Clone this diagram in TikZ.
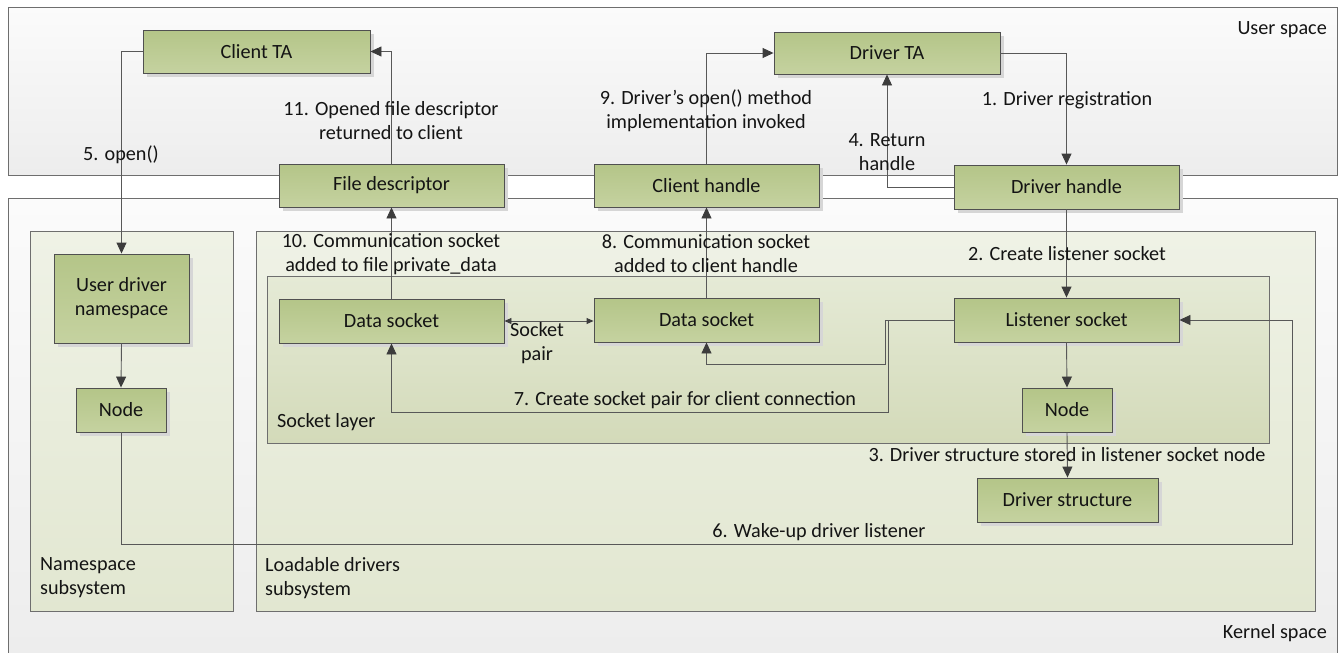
\documentclass[tikz,border=0pt]{standalone}
\usepackage{fontspec}
\setmainfont{Carlito}
\usetikzlibrary{arrows.meta}
\definecolor{gtop}{HTML}{B4C588}
\definecolor{gbot}{HTML}{C5D2A0}
\definecolor{gborder}{HTML}{505050}
\definecolor{cborder}{HTML}{6E6E6E}
\definecolor{linec}{HTML}{585858}
\definecolor{tipc}{HTML}{3C3C3C}
\definecolor{shadowc}{HTML}{D6D6D6}
\definecolor{txt}{HTML}{141414}
\definecolor{ctop}{HTML}{FBFBFB}
\definecolor{cbot}{HTML}{EDEDED}
\definecolor{ntop}{HTML}{EFF2E6}
\definecolor{nbot}{HTML}{E2E7D1}
\definecolor{stop}{HTML}{E5EAD6}
\definecolor{sbot}{HTML}{D3DAB9}
\tikzset{
  gbox/.style={draw=gborder, line width=0.9pt, top color=gtop, bottom color=gbot,
    inner sep=0pt, align=center, text=txt},
  lbl/.style={inner sep=0pt, align=center, text=txt},
  arr/.style={draw=linec, line width=0.9pt, -{Triangle[length=11pt,width=10pt,fill=tipc,color=tipc]}},
  arrs/.style={draw=linec, line width=0.9pt, {Triangle[length=7pt,width=6pt,fill=tipc,color=tipc]}-{Triangle[length=7pt,width=6pt,fill=tipc,color=tipc]}},
  plain/.style={draw=linec, line width=0.9pt},
  cont/.style={draw=cborder, line width=0.9pt},
}
\newcommand\greenbox[6]{%
  \fill[shadowc] ({#2-#4/2+4},{#3-#5/2+4}) rectangle ({#2+#4/2+4},{#3+#5/2+4});
  \node[gbox, minimum width=#4pt, minimum height=#5pt] (#1) at (#2,#3) {#6};}
\begin{document}
\begin{tikzpicture}[x=1pt,y=-1pt,font=\fontsize{20.2}{24}\selectfont]
\useasboundingbox (0,0) rectangle (1344,653);
\fill[white] (0,0) rectangle (1344,653);
% containers
\path[cont, top color=ctop, bottom color=cbot] (8,7) rectangle (1337,175);
\path[top color=ctop, bottom color=cbot] (8,198) rectangle (1337,653);
\draw[cont] (8,653) -- (8,198) -- (1337,198) -- (1337,653);
\path[cont, top color=ntop, bottom color=nbot] (30,231) rectangle (233,611);
\path[cont, top color=ntop, bottom color=nbot] (256,231) rectangle (1315,611);
\path[cont, top color=stop, bottom color=sbot] (267,276) rectangle (1269,443);
\node[lbl, anchor=east] (us) at (1327,30) {User space};
\node[lbl, anchor=east] (ks) at (1327,633) {Kernel space};
\node[lbl, anchor=west] (sl) at (277,422) {Socket layer};
\node[lbl, anchor=west, align=left] (nsl) at (40,578) {Namespace\\subsystem};
\node[lbl, anchor=west, align=left] (ldl) at (265,578) {Loadable drivers\\subsystem};
% boxes
\greenbox{cta}{256.5}{51.5}{227}{43}{Client TA}
\greenbox{dta}{887}{53}{226}{42}{Driver TA}
\greenbox{fd}{391.5}{185.5}{225}{43}{File descriptor}
\greenbox{ch}{706.5}{185.5}{225}{43}{Client handle}
\greenbox{dh}{1066.5}{187}{225}{44}{Driver handle}
\greenbox{uns}{121.5}{298.5}{135}{89}{User driver\\namespace}
\greenbox{nns}{121}{410}{90}{44}{Node}
\greenbox{dl}{391.5}{321}{225}{44}{Data socket}
\greenbox{dm}{706.5}{320}{225}{44}{Data socket}
\greenbox{ls}{1066.5}{320}{225}{44}{Listener socket}
\greenbox{nl}{1067}{410}{90}{44}{Node}
\greenbox{dst}{1067.5}{500}{181}{44}{Driver structure}
% connectors
\draw[arr] (dta.east) -| (dh.north);
\draw[arr] (dh.south) -- (ls.north);
\draw[arr] (ls.south) -- (nl.north);
\draw[arr] (nl.south) -- (dst.north);
\draw[arr] (dh.west) -| (dta.south);
\draw[arr] (cta.west) -| (uns.north);
\draw[arr] (uns.south) -- (nns.north);
\coordinate (w6) at (1292,544);
\draw[arr] (nns.south) |- (w6) |- (ls.east);
\coordinate (c7a) at (888,412);
\coordinate (c7b) at (885,364);
\draw[arr] (ls.west) -| (c7a) -| (dl.south);
\draw[arr] (ls.west) -| (c7b) -| (dm.south);
\draw[arr] (dm.north) -- (ch.south);
\draw[arr] (ch.north) |- (dta.west);
\draw[arr] (dl.north) -- (fd.south);
\draw[arr] (fd.north) |- (cta.east);
\draw[arrs] (dl.east) -- (dm.west |- dl.east);
% labels
\node[lbl] (l1) at (1067,100) {1. Driver registration};
\node[lbl] (l2) at (1067,254) {2. Create listener socket};
\node[lbl] (l3) at (1067,455) {3. Driver structure stored in listener socket node};
\node[lbl] (l4) at (887,152.5) {4. Return\\handle};
\node[lbl] (l5) at (121,155) {5. open()};
\node[lbl] (l6) at (819,532) {6. Wake-up driver listener};
\node[lbl] (l7) at (685,400) {7. Create socket pair for client connection};
\node[lbl] (l8) at (706,254) {8. Communication socket\\added to client handle};
\node[lbl] (l9) at (706,111) {9. Driver’s open() method\\implementation invoked};
\node[lbl] (l10) at (391,254) {10. Communication socket\\added to file private\_data};
\node[lbl] (l11) at (391,121) {11. Opened file descriptor\\returned to client};
\node[lbl] (lsp) at (537,343.5) {Socket\\pair};
\end{tikzpicture}
\end{document}
